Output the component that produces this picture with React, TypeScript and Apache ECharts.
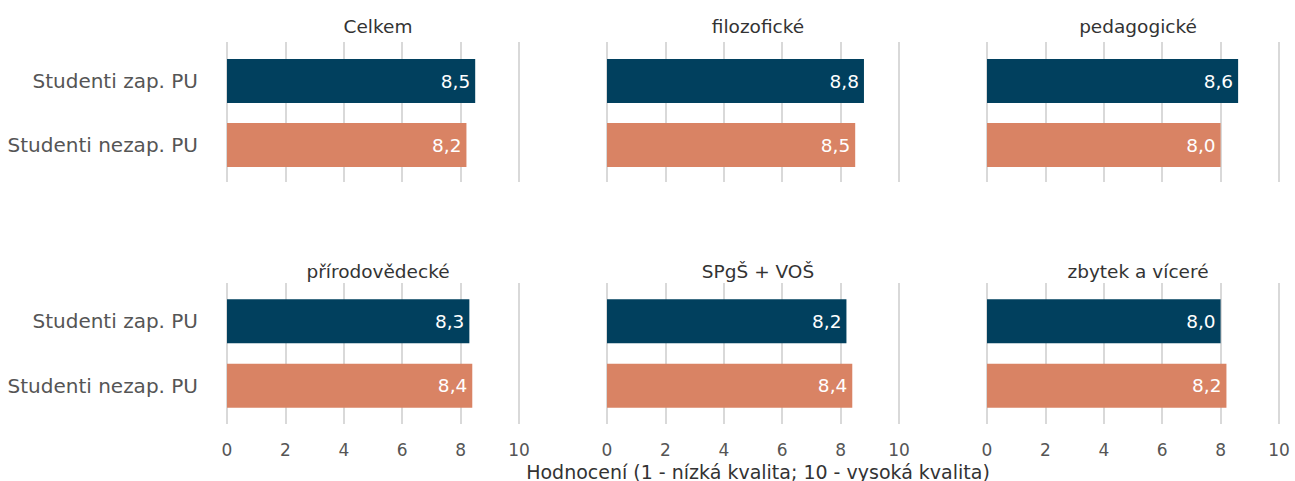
import React, { useEffect, useRef } from "react";
import * as echarts from "echarts";

const panelTitles = ["Celkem", "filozofické", "pedagogické", "přírodovědecké", "SPgŠ + VOŠ", "zbytek a víceré"];
const categories = ["Studenti zap. PU", "Studenti nezap. PU"];
const zapValues = [8.5, 8.8, 8.6, 8.3, 8.2, 8.0];
const nezapValues = [8.2, 8.5, 8.0, 8.4, 8.4, 8.2];
const xMin = 0;
const xMax = 10;
const xInterval = 2;
const axisTitle = "Hodnocení (1 - nízká kvalita; 10 - vysoká kvalita)";

const NAVY = "#01405E";
const ORANGE = "#D98364";
const FONT = "DejaVu Sans";

const colLeft = [227, 607, 987];
const colWidth = 292;
const rowBg = [
  { top: 42, height: 140 },
  { top: 283, height: 141 },
];
const rowFg = [
  { top: 49, height: 128 },
  { top: 289, height: 129 },
];
const titleTop = [12, 257];

export default function App() {
  const ref = useRef<HTMLDivElement>(null);
  useEffect(() => {
    if (!ref.current) return;
    const chart = echarts.init(ref.current, undefined, { renderer: "svg" });
    const grid: any[] = [];
    const xAxis: any[] = [];
    const yAxis: any[] = [];
    const series: any[] = [];
    const title: any[] = [];

    for (let i = 0; i < 6; i++) {
      const r = Math.floor(i / 3);
      const c = i % 3;
      const bgIdx = grid.length;
      grid.push({ left: colLeft[c], width: colWidth, top: rowBg[r].top, height: rowBg[r].height, containLabel: false });
      xAxis.push({
        gridIndex: bgIdx,
        type: "value",
        min: xMin,
        max: xMax,
        interval: xInterval,
        axisLine: { show: false },
        axisTick: { show: false },
        splitLine: { show: true, lineStyle: { color: "#D9D9D9", width: 2 } },
        axisLabel: { show: r === 1, color: "#555", fontFamily: FONT, fontSize: 17, margin: 17 },
      });
      yAxis.push({ gridIndex: bgIdx, type: "value", show: false, min: 0, max: 1 });

      const fgIdx = grid.length;
      grid.push({ left: colLeft[c], width: colWidth, top: rowFg[r].top, height: rowFg[r].height, containLabel: false });
      xAxis.push({ gridIndex: fgIdx, type: "value", min: xMin, max: xMax, interval: xInterval, show: false });
      yAxis.push({
        gridIndex: fgIdx,
        type: "category",
        inverse: true,
        data: categories,
        axisLine: { show: false },
        axisTick: { show: false },
        splitLine: { show: false },
        axisLabel: { show: c === 0, color: "#555", fontFamily: FONT, fontSize: 20, margin: 29 },
      });
      series.push({
        type: "bar",
        xAxisIndex: fgIdx,
        yAxisIndex: fgIdx,
        barWidth: 44,
        data: [
          { value: zapValues[i], itemStyle: { color: NAVY } },
          { value: nezapValues[i], itemStyle: { color: ORANGE } },
        ],
        label: {
          show: true,
          position: "insideRight",
          distance: 5,
          color: "#fff",
          fontFamily: FONT,
          fontSize: 18.5,
          formatter: (p: any) => p.value.toFixed(1).replace(".", ","),
        },
      });
      title.push({
        text: panelTitles[i],
        left: colLeft[c] + colWidth / 2,
        top: titleTop[r],
        textAlign: "center",
        textStyle: { color: "#333", fontFamily: FONT, fontSize: 18.5, fontWeight: "normal" },
      });
    }
    title.push({
      text: axisTitle,
      left: 753,
      top: 457,
      textAlign: "center",
      textStyle: { color: "#333", fontFamily: FONT, fontSize: 19, fontWeight: "normal" },
    });

    chart.setOption({
      animation: false,
      backgroundColor: "#fff",
      title,
      grid,
      xAxis,
      yAxis,
      series,
    });
    return () => chart.dispose();
  }, []);
  return <div ref={ref} style={{ position: "fixed", left: 0, top: 0, width: 1295, height: 481 }} />;
}
